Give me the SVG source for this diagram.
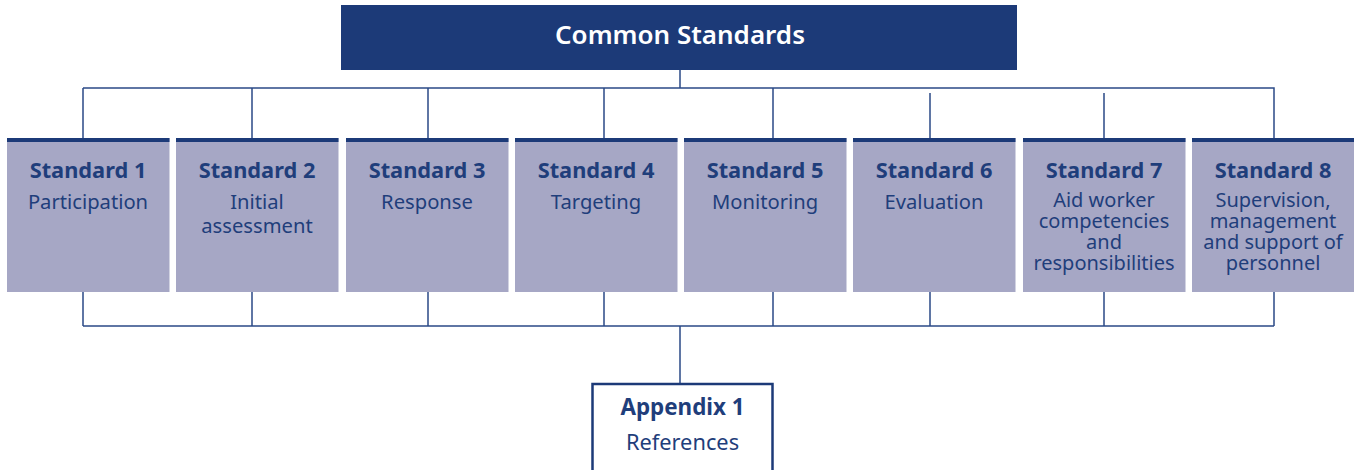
<svg xmlns="http://www.w3.org/2000/svg" width="1354" height="470" viewBox="0 0 1354 470">
<style>
.ln{stroke:#2b4a87;stroke-width:1.5;fill:none}
.box{fill:#a6a7c5}
.bar{fill:#1c3a78}
.t{font-family:"Noto Sans","Open Sans",sans-serif;fill:#1f3e7b;text-anchor:middle}
.h{font-weight:bold;font-size:21.8px}
.d{font-size:20.2px}
.ds{font-size:20px}
</style>
<rect width="1354" height="470" fill="#ffffff"/>
<g id="connectors">
<path class="ln" d="M680 70V88M83 88H1274V138M83 88V138M252 88V138M428 88V138M604 88V138M773 88V138M930 93V138M1104 93V138"/>
<path class="ln" d="M83 292V326M252 292V326M428 292V326M604 292V326M773 292V326M930 292V326M1104 292V326M1274 292V326M83 326H1274M680 326V384"/>
</g>
<g id="common">
<rect x="341" y="5" width="676" height="65" class="bar"/>
<text x="680" y="44" class="t" style="fill:#ffffff;font-size:26px;font-weight:600">Common Standards</text>
</g>
<g id="s1"><rect x="7" y="138" width="162.5" height="154" class="box"/><rect x="7" y="138" width="162.5" height="4" class="bar"/>
<text x="88" y="178" class="t h">Standard 1</text><text x="88" y="209" class="t d">Participation</text></g>
<g id="s2"><rect x="176" y="138" width="162.5" height="154" class="box"/><rect x="176" y="138" width="162.5" height="4" class="bar"/>
<text x="257" y="178" class="t h">Standard 2</text><text x="257" y="209" class="t d">Initial</text><text x="257" y="233" class="t d">assessment</text></g>
<g id="s3"><rect x="346" y="138" width="162.5" height="154" class="box"/><rect x="346" y="138" width="162.5" height="4" class="bar"/>
<text x="427" y="178" class="t h">Standard 3</text><text x="427" y="209" class="t d">Response</text></g>
<g id="s4"><rect x="515" y="138" width="162.5" height="154" class="box"/><rect x="515" y="138" width="162.5" height="4" class="bar"/>
<text x="596" y="178" class="t h">Standard 4</text><text x="596" y="209" class="t d">Targeting</text></g>
<g id="s5"><rect x="684" y="138" width="162.5" height="154" class="box"/><rect x="684" y="138" width="162.5" height="4" class="bar"/>
<text x="765" y="178" class="t h">Standard 5</text><text x="765" y="209" class="t d">Monitoring</text></g>
<g id="s6"><rect x="853" y="138" width="162.5" height="154" class="box"/><rect x="853" y="138" width="162.5" height="4" class="bar"/>
<text x="934" y="178" class="t h">Standard 6</text><text x="934" y="209" class="t d">Evaluation</text></g>
<g id="s7"><rect x="1023" y="138" width="162.5" height="154" class="box"/><rect x="1023" y="138" width="162.5" height="4" class="bar"/>
<text x="1104" y="178" class="t h">Standard 7</text><text x="1104" y="207" class="t ds">Aid worker</text><text x="1104" y="228" class="t ds">competencies</text><text x="1104" y="249" class="t ds">and</text><text x="1104" y="270" class="t ds">responsibilities</text></g>
<g id="s8"><rect x="1192" y="138" width="162" height="154" class="box"/><rect x="1192" y="138" width="162" height="4" class="bar"/>
<text x="1273" y="178" class="t h">Standard 8</text><text x="1273" y="207" class="t ds">Supervision,</text><text x="1273" y="228" class="t ds">management</text><text x="1273" y="249" class="t ds">and support of</text><text x="1273" y="270" class="t ds">personnel</text></g>
<g id="appendix"><rect x="592.5" y="384" width="180" height="90" fill="#ffffff" stroke="#1c3a78" stroke-width="2.5"/>
<text x="682.5" y="415" class="t" style="font-weight:bold;font-size:22.4px">Appendix 1</text><text x="682.5" y="450" class="t" style="font-size:21.8px">References</text></g>
</svg>
